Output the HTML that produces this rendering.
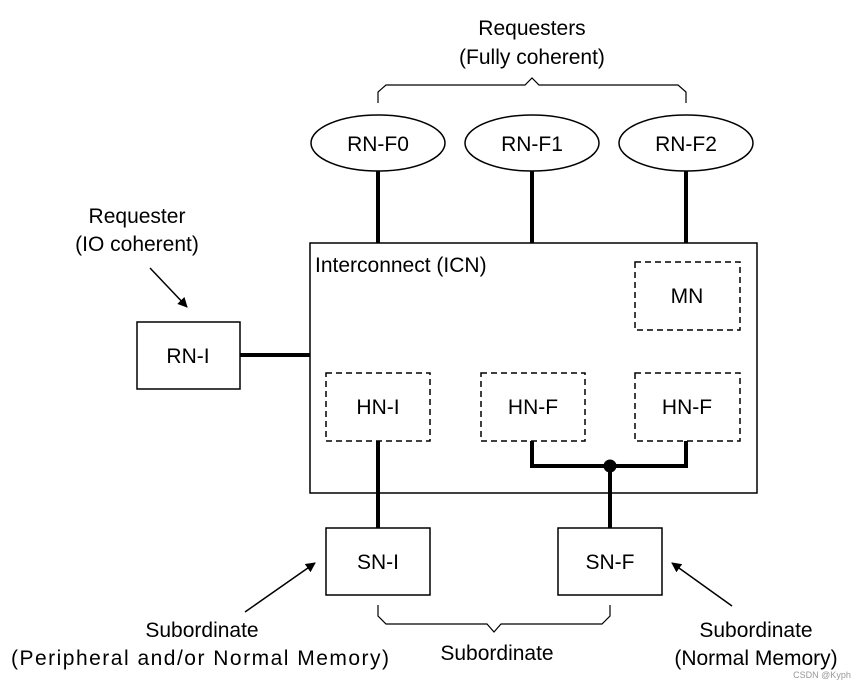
<!DOCTYPE html>
<html><head><style>body{margin:0;background:#fff}</style></head><body>
<svg width="859" height="688" xmlns="http://www.w3.org/2000/svg" font-family="Liberation Sans, sans-serif" font-size="21" fill="none" stroke="#000">
<defs><marker id="a" markerWidth="10" markerHeight="10" refX="9" refY="5" orient="auto" markerUnits="userSpaceOnUse"><path d="M0,0 L10,5 L0,10 z" fill="#000" stroke="none"/></marker></defs>
<path d="M378,103 L378,92 L386,85 L525,85 L532,78 L539,85 L678,85 L686,92 L686,103" stroke-width="1.2"/>
<g stroke-width="1.5" fill="#fff"><rect x="310" y="243" width="447" height="250"/></g>
<g stroke-width="4"><line x1="378" y1="170" x2="378" y2="243"/><line x1="532" y1="170" x2="532" y2="243"/><line x1="686" y1="170" x2="686" y2="243"/><line x1="240" y1="355" x2="310" y2="355"/>
<line x1="378" y1="441" x2="378" y2="528"/><path d="M532,441 L532,466 L686,466 L686,441"/><line x1="610" y1="466" x2="610" y2="528"/></g>
<circle cx="610" cy="466" r="6" fill="#000"/>
<g stroke-width="1.5" fill="#fff"><ellipse cx="378" cy="143" rx="67" ry="28"/><ellipse cx="532" cy="143" rx="67" ry="28"/><ellipse cx="686" cy="143" rx="67" ry="28"/>
<rect x="137" y="322" width="103" height="67"/><rect x="326" y="528" width="104" height="67"/><rect x="558" y="528" width="104" height="67"/></g>
<g stroke-width="1.5" stroke-dasharray="6,4"><rect x="635" y="262" width="105" height="68"/><rect x="326" y="373" width="104" height="68"/><rect x="481" y="373" width="104" height="68"/><rect x="635" y="373" width="105" height="68"/></g>
<path d="M378,605 L378,616 L386,624 L487,624 L494,632 L501,624 L602,624 L610,616 L610,605" stroke-width="1.2"/>
<g stroke-width="1.5" marker-end="url(#a)"><line x1="150" y1="268" x2="187" y2="307"/><line x1="245" y1="612" x2="315" y2="563"/><line x1="732" y1="606" x2="672" y2="563"/></g>
<g fill="#000" stroke="none" text-anchor="middle">
<text x="532" y="35">Requesters</text><text x="532" y="64">(Fully coherent)</text>
<text x="378" y="151">RN-F0</text><text x="532" y="151">RN-F1</text><text x="686" y="151">RN-F2</text>
<text x="137" y="223">Requester</text><text x="137" y="251">(IO coherent)</text>
<text x="188" y="363">RN-I</text><text x="687" y="303">MN</text>
<text x="378" y="414">HN-I</text><text x="533" y="414">HN-F</text><text x="687" y="414">HN-F</text>
<text x="378" y="569">SN-I</text><text x="610" y="569">SN-F</text>
<text x="202" y="637">Subordinate</text><text x="200" y="665" textLength="378">(Peripheral and/or Normal Memory)</text>
<text x="756" y="637">Subordinate</text><text x="756" y="665">(Normal Memory)</text>
<text x="497" y="660">Subordinate</text>
<text x="315" y="272" text-anchor="start">Interconnect (ICN)</text>
<text x="822" y="678" font-size="9" fill="#999">CSDN @Kyph</text>
</g>
</svg>
</body></html>
